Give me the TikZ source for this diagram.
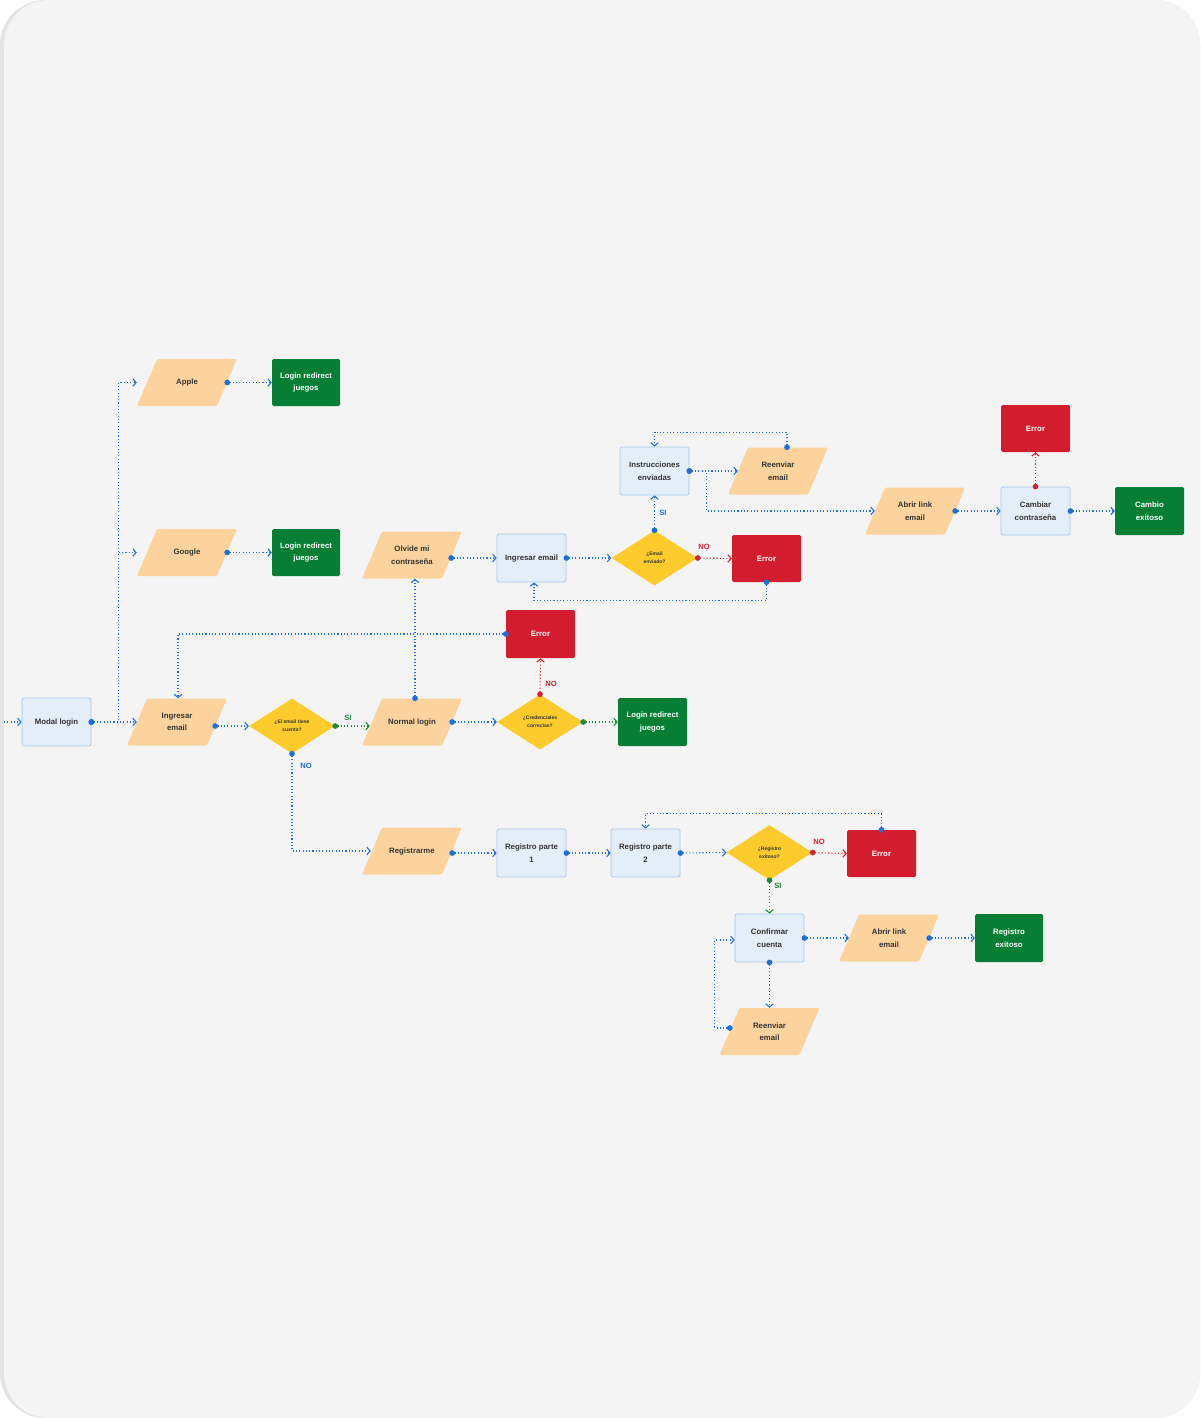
\documentclass[tikz,border=0pt]{standalone}
\usepackage{fontspec}
\setmainfont{Liberation Sans}
\usetikzlibrary{arrows.meta,shapes.geometric,calc}
\definecolor{bgcol}{HTML}{F4F4F4}
\definecolor{stripcol}{HTML}{E2E4E4}
\definecolor{boxblue}{HTML}{E3EEF9}
\definecolor{boxline}{HTML}{A7C7EC}
\definecolor{parafill}{HTML}{FCD39C}
\definecolor{okgreen}{HTML}{067E33}
\definecolor{errred}{HTML}{D31D2F}
\definecolor{yel}{HTML}{FECB2C}
\definecolor{txt}{HTML}{333333}
\definecolor{lnblue}{HTML}{1F6FD6}
\definecolor{lngreen}{HTML}{1B8A3B}
\definecolor{lnred}{HTML}{D9222F}
\newcommand\myNodeFont{\fontsize{7.8}{12.5}\selectfont\bfseries}
\newcommand\myDiaFont{\fontsize{5}{8}\selectfont\bfseries}
\newcommand\myLblFont{\fontsize{7.6}{8}\selectfont\bfseries}
\begin{document}
\begin{tikzpicture}[x=1pt,y=-1pt,
  box/.style={rectangle, rounded corners=1.5pt, minimum width=69pt, minimum height=48pt, inner sep=1pt, align=center, font=\myNodeFont},
  bluebox/.style={box, fill=boxblue, draw=boxline, line width=0.8pt, text=txt},
  greenbox/.style={box, fill=okgreen, text=white},
  redbox/.style={box, fill=errred, text=white},
  para/.style={rectangle, minimum width=100pt, minimum height=47pt, inner sep=0pt, align=center, font=\myNodeFont, text=txt, fill=bgcol,
    path picture={\fill[parafill, rounded corners=1.5pt] ([xshift=20pt]path picture bounding box.north west) -- (path picture bounding box.north east) -- ([xshift=-20pt]path picture bounding box.south east) -- (path picture bounding box.south west) -- cycle;}},
  dia/.style={diamond, fill=yel, minimum width=86pt, minimum height=55pt, inner sep=0pt, align=center, font=\myDiaFont, text=txt},
  conn/.style={draw=lnblue, line width=1.1pt, dash pattern=on 1.1pt off 2.2pt,
    arrows={Circle[length=5.6pt]-Straight Barb[length=3.2pt,width=7.5pt]}, shorten <=-2.8pt},
  conng/.style={conn, draw=lngreen},
  connr/.style={conn, draw=lnred},
  connnd/.style={draw=lnblue, line width=1.1pt, dash pattern=on 1.1pt off 2.2pt, arrows={-Straight Barb[length=3.2pt,width=7.5pt]}},
  lbl/.style={font=\myLblFont, inner sep=0pt},
  lblb/.style={lbl, text=lnblue},
  lblg/.style={lbl, text=lngreen},
  lblr/.style={lbl, text=lnred}
]
\useasboundingbox (0,0) rectangle (1200,1418);
\fill[white] (0,0) rectangle (1200,1418);
\fill[stripcol, rounded corners=45pt] (0,0) rectangle (1200,1418);
\fill[bgcol, rounded corners=45pt] (4,0) rectangle (1200,1418);

% nodes
\node[bluebox] (modal) at (56.5,722) {Modal login};
\node[para] (ingp) at (177,722) {Ingresar\\email};
\node[para] (apple) at (187,382.5) {Apple};
\node[para] (google) at (187,552.5) {Google};
\node[greenbox, minimum width=68pt, minimum height=47pt] (lrA) at (306,382.5) {Login redirect\\juegos};
\node[greenbox, minimum width=68pt, minimum height=47pt] (lrG) at (306,552.5) {Login redirect\\juegos};
\node[dia] (d1) at (292,726) {¿El email tiene\\cuenta?};
\node[para] (normal) at (412,722) {Normal login};
\node[para] (olvide) at (412,555) {Olvide mi\\contraseña};
\node[bluebox] (ingb) at (531.5,558) {Ingresar email};
\node[dia] (d2) at (654.5,558) {¿Email\\enviado?};
\node[redbox, minimum height=47pt] (err2) at (766.5,558.5) {Error};
\node[bluebox] (instr) at (654.5,471) {Instrucciones\\enviadas};
\node[para] (reenv1) at (778,471) {Reenviar\\email};
\node[para] (abrir1) at (915,511) {Abrir link\\email};
\node[bluebox] (cambiar) at (1035.5,511) {Cambiar\\contraseña};
\node[redbox, minimum height=47pt] (err4) at (1035.5,428.5) {Error};
\node[greenbox] (cambio) at (1149.5,511) {Cambio\\exitoso};
\node[redbox] (err1) at (540.5,634) {Error};
\node[dia] (d3) at (540,722) {¿Credenciales\\correctas?};
\node[greenbox] (lrC) at (652.5,722) {Login redirect\\juegos};
\node[para] (regme) at (412,851) {Registrarme};
\node[bluebox] (reg1) at (531.5,853) {Registro parte\\1};
\node[bluebox] (reg2) at (645.5,853) {Registro parte\\2};
\node[dia] (d4) at (769.5,852.5) {¿Registro\\exitoso?};
\node[redbox, minimum height=47pt] (err3) at (881.5,853.5) {Error};
\node[bluebox] (conf) at (769.5,938) {Confirmar\\cuenta};
\node[para] (abrir2) at (889,938) {Abrir link\\email};
\node[greenbox, minimum width=68pt] (regex) at (1009,938) {Registro\\exitoso};
\node[para] (reenv2) at (769.5,1031.5) {Reenviar\\email};

\coordinate (inA) at (4,722);

% connectors
\draw[connnd] (inA) -- (modal.west);
\draw[conn] (modal.east) -- ($(ingp.west)+(10,0)$);
\draw[conn] (modal.east) -- ++(27,0) |- (apple.west);
\draw[conn] (modal.east) -- ++(27,0) |- (google.west);
\draw[conn] ($(apple.east)+(-10,0)$) -- (lrA.west);
\draw[conn] ($(google.east)+(-10,0)$) -- (lrG.west);
\draw[conn] ($(ingp.east |- d1.west)+(-12,0)$) -- (d1.west);
\draw[conng] (d1.east) -- ($(d1.east -| normal.west)+(8,0)$);
\node[lblg] (siA) at (348,718) {SI};
\draw[conn] (d1.south) |- ($(regme.west)+(9,0)$);
\node[lblb] (noA) at (306,766) {NO};
\draw[conn] ($(normal.east)+(-10,0)$) -- (d3.west);
\draw[conn] ($(normal.north)+(3,0)$) -- ($(olvide.south)+(3,0)$);
\draw[conn] ($(olvide.east |- ingb.west)+(-11,0)$) -- (ingb.west);
\draw[conn] (ingb.east) -- (d2.west);
\draw[connr] (d2.east) -- (err2.west);
\node[lblr] (noB) at (704,547) {NO};
\draw[conn] (d2.north) -- (instr.south);
\node[lblb] (siB) at (663,513) {SI};
\draw[conn] (err2.south) -- ++(0,18) -| ($(ingb.south)+(2.5,0)$);
\draw[connr] (d3.north) -- (err1.south);
\node[lblr] (noC) at (551,684) {NO};
\draw[conng] (d3.east) -- (lrC.west);
\draw[conn] (err1.west) -| ($(ingp.north)+(1,0)$);
\draw[conn] (instr.east) -- ($(reenv1.west)+(10,0)$);
\draw[conn] (instr.east) -- ++(17,0) |- ($(abrir1.west)+(10,0)$);
\draw[conn] ($(reenv1.north)+(9,0)$) -- ++(0,-15) -| (instr.north);
\draw[conn] ($(abrir1.east)+(-10,0)$) -- (cambiar.west);
\draw[connr] (cambiar.north) -- (err4.south);
\draw[conn] (cambiar.east) -- (cambio.west);
\draw[conn] ($(regme.east |- reg1.west)+(-10,0)$) -- (reg1.west);
\draw[conn] (reg1.east) -- (reg2.west);
\draw[conn] (reg2.east) -- (d4.west);
\draw[connr] (d4.east) -- (err3.west);
\node[lblr] (noD) at (819,842) {NO};
\draw[conn] (err3.north) -- ++(0,-16) -| (reg2.north);
\draw[conng] (d4.south) -- (conf.north);
\node[lblg] (siC) at (778,886) {SI};
\draw[conn] (conf.east) -- ($(abrir2.west)+(10,0)$);
\draw[conn] ($(abrir2.east)+(-10,0)$) -- (regex.west);
\draw[conn] (conf.south) -- (reenv2.north);
\draw[conn] ($(reenv2.west)+(10.5,-3.5)$) -- ++(-15,0) |- ($(conf.west)+(0,2)$);
\end{tikzpicture}
\end{document}
